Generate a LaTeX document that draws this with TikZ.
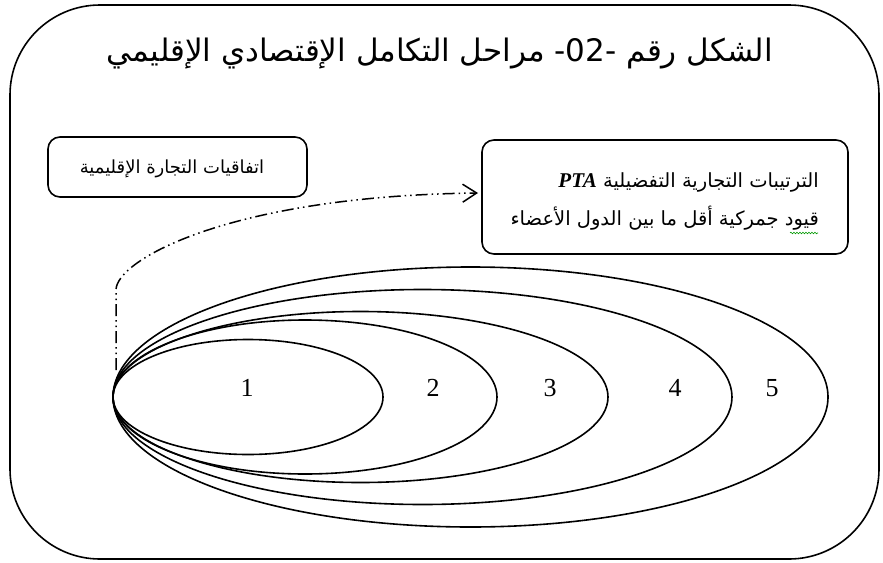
\documentclass[tikz,border=0pt]{standalone}
\usepackage{fontspec}
\setmainfont{Liberation Serif}
\newfontfamily\arabicfont[Script=Arabic]{DejaVu Sans}
\newfontfamily\latinserif{Liberation Serif}
\usetikzlibrary{shapes.geometric,arrows.meta,decorations.pathmorphing}
\TeXXeTstate=1
\begin{document}
\begin{tikzpicture}[x=1pt,y=-1pt,
  frame/.style={draw=black,line width=1.6pt,rounded corners=90pt},
  roundbox/.style={draw=black,line width=1.6pt,rounded corners=12pt,inner sep=0pt,outer sep=0pt},
  stage/.style={draw=black,line width=1.6pt,ellipse,inner sep=0pt,outer sep=0pt},
  numlabel/.style={font=\latinserif\fontsize{26}{30}\selectfont,inner sep=0pt},
  conn/.style={line width=1.5pt,dash pattern=on 12pt off 4pt on 1.5pt off 4pt on 1.5pt off 4pt,
     -{Straight Barb[length=14pt,width=18pt,line width=1.5pt]}}
]
\useasboundingbox (0,0) rectangle (883,562);
\draw[frame] (10,5) rectangle (879,559);

\node[inner sep=0pt] (title) at (440,54)
  {\arabicfont\fontsize{31}{36}\selectfont\beginR الشكل رقم \beginL-02-\endL{} مراحل التكامل الإقتصادي الإقليمي\endR};

\node[roundbox,minimum width=259pt,minimum height=60pt] (agree) at (177.5,167) {};
\node[inner sep=0pt] (agreetext) at (172,169)
  {\arabicfont\fontsize{18}{22}\selectfont\beginR اتفاقيات التجارة الإقليمية\endR};

\node[roundbox,minimum width=366pt,minimum height=114pt] (pta) at (665,197) {};
\node[inner sep=0pt,anchor=east] (ptaone) at (819,182)
  {\arabicfont\fontsize{19.5}{23}\selectfont\beginR الترتيبات التجارية التفضيلية \beginL{\latinserif\fontsize{21}{24}\selectfont\bfseries\itshape PTA}\endL\endR};
\node[inner sep=0pt,anchor=east] (ptatwo) at (819,218)
  {\arabicfont\fontsize{19.5}{23}\selectfont\beginR قيود جمركية أقل ما بين الدول الأعضاء\endR};
\coordinate (wavyR) at (818,233);
\coordinate (wavyL) at (790,233);
\draw[green!60!black,line width=0.6pt,decorate,decoration={snake,amplitude=0.8pt,segment length=3pt}] (wavyL) -- (wavyR);

\node[stage,minimum width=715pt,minimum height=260pt] (e5) at (470.5,397) {};
\node[stage,minimum width=619pt,minimum height=215pt] (e4) at (422.5,397) {};
\node[stage,minimum width=495pt,minimum height=171pt] (e3) at (360.5,397) {};
\node[stage,minimum width=384pt,minimum height=154pt] (e2) at (305,397) {};
\node[stage,minimum width=270pt,minimum height=115pt] (e1) at (248,397) {};

\node[numlabel] (n1) at (247,388) {1};
\node[numlabel] (n2) at (433,388) {2};
\node[numlabel] (n3) at (550,388) {3};
\node[numlabel] (n4) at (675,388) {4};
\node[numlabel] (n5) at (772,388) {5};

\draw[conn] ([xshift=3pt,yshift=27pt]e5.west) -- ++(0,-80)
  .. controls ++(0,-30) and (230,196) .. ([xshift=-4pt,yshift=4pt]pta.west);
\end{tikzpicture}
\end{document}
